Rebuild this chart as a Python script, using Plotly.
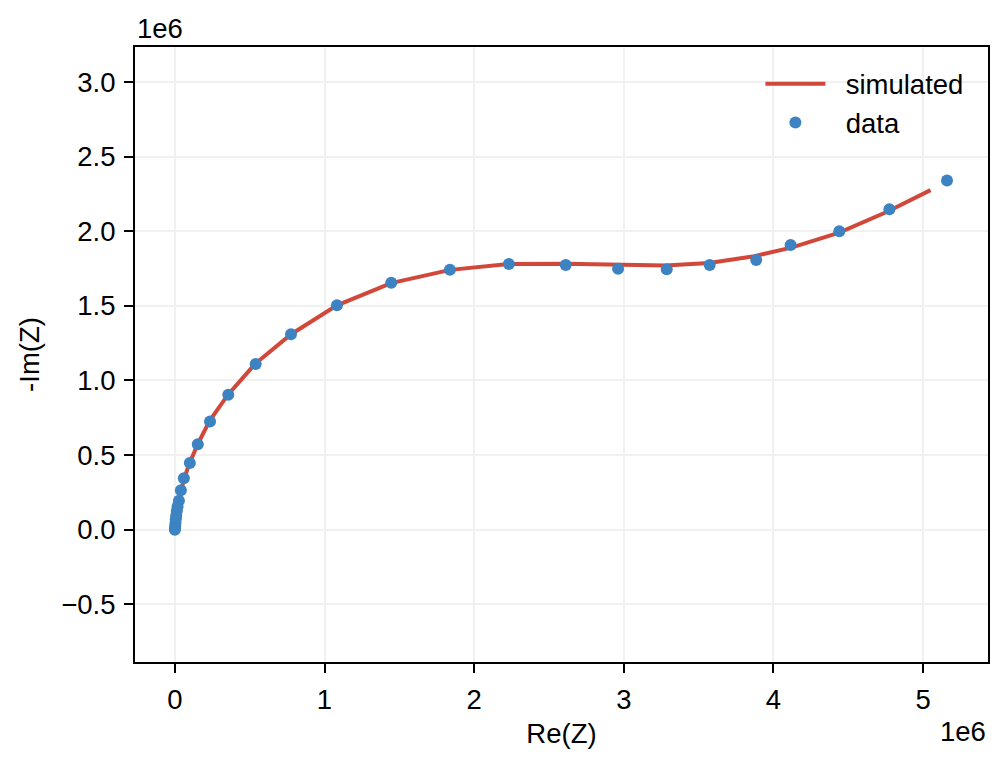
import plotly.graph_objects as go

# Values in units of 1e6 (ohm)
data_re = [0.0, 0.001, 0.002, 0.004, 0.006, 0.009, 0.013, 0.018, 0.027, 0.04, 0.06, 0.1,
           0.153, 0.235, 0.357, 0.540, 0.776, 1.083, 1.446, 1.838, 2.232, 2.612, 2.962,
           3.287, 3.574, 3.885, 4.115, 4.44, 4.775, 5.16]
data_im = [0.0, 0.01, 0.025, 0.045, 0.07, 0.095, 0.125, 0.155, 0.195, 0.265, 0.345, 0.447,
           0.573, 0.725, 0.904, 1.110, 1.310, 1.504, 1.654, 1.742, 1.781, 1.774, 1.749,
           1.745, 1.774, 1.807, 1.907, 2.0, 2.147, 2.34]

sim_re = [0.0, 0.001, 0.002, 0.004, 0.006, 0.009, 0.013, 0.018, 0.027, 0.04, 0.062, 0.1,
          0.155, 0.232, 0.355, 0.537, 0.777, 1.083, 1.445, 1.84, 2.23, 2.61, 2.96, 3.28,
          3.57, 3.86, 4.12, 4.44, 4.76, 5.05]
sim_im = [0.0, 0.01, 0.025, 0.045, 0.07, 0.095, 0.125, 0.155, 0.195, 0.262, 0.345, 0.45,
          0.578, 0.73, 0.905, 1.112, 1.31, 1.503, 1.652, 1.741, 1.78, 1.782, 1.774, 1.77,
          1.787, 1.83, 1.89, 1.99, 2.13, 2.275]

x_ticks = [0, 1, 2, 3, 4, 5]
x_ticklabels = ["0", "1", "2", "3", "4", "5"]
y_ticks = [-0.5, 0.0, 0.5, 1.0, 1.5, 2.0, 2.5, 3.0]
y_ticklabels = ["\u22120.5", "0.0", "0.5", "1.0", "1.5", "2.0", "2.5", "3.0"]

FONT = "Liberation Sans, Arial, Helvetica, sans-serif"
FS = 27.5
RED = "#d1483b"
BLUE = "#3d83c2"
GAP = "\u00a0\u00a0"

fig = go.Figure()
fig.add_trace(go.Scatter(x=sim_re, y=sim_im, mode="lines", name=GAP + "simulated",
                         line=dict(color=RED, width=4)))
fig.add_trace(go.Scatter(x=data_re, y=data_im, mode="markers", name=GAP + "data",
                         marker=dict(color=BLUE, size=12, line=dict(width=0))))

axis_common = dict(
    showline=True, linecolor="black", linewidth=2, mirror=True,
    ticks="outside", ticklen=9, tickwidth=2, tickcolor="black",
    showgrid=True, gridcolor="#f1f1f1", gridwidth=2, zeroline=False,
    tickfont=dict(family=FONT, size=FS, color="black"),
    ticklabelstandoff=3,
)

fig.update_layout(
    width=1007, height=770,
    margin=dict(l=135, r=19, t=47, b=108),
    paper_bgcolor="white", plot_bgcolor="white",
    font=dict(family=FONT, size=FS, color="black"),
    showlegend=True,
    legend=dict(x=0.977, xanchor="right", y=0.98, yanchor="top",
                bgcolor="rgba(0,0,0,0)", font=dict(family=FONT, size=FS),
                itemwidth=60, tracegroupgap=0),
    xaxis=dict(range=[-0.2665, 5.434], tickvals=x_ticks, ticktext=x_ticklabels,
               title=dict(text="Re(Z)", font=dict(family=FONT, size=FS), standoff=10),
               **axis_common),
    yaxis=dict(range=[-0.886, 3.234], tickvals=y_ticks, ticktext=y_ticklabels,
               title=dict(text="-Im(Z)", font=dict(family=FONT, size=FS), standoff=14),
               **axis_common),
    annotations=[
        dict(text="1e6", xref="paper", yref="paper", x=0, y=1, xanchor="left",
             yanchor="bottom", showarrow=False, xshift=0, yshift=1,
             font=dict(family=FONT, size=FS, color="black")),
        dict(text="1e6", xref="paper", yref="paper", x=1, y=0, xanchor="right",
             yanchor="top", showarrow=False, yshift=-52,
             font=dict(family=FONT, size=FS, color="black")),
    ],
)

fig.write_html("out.html")
